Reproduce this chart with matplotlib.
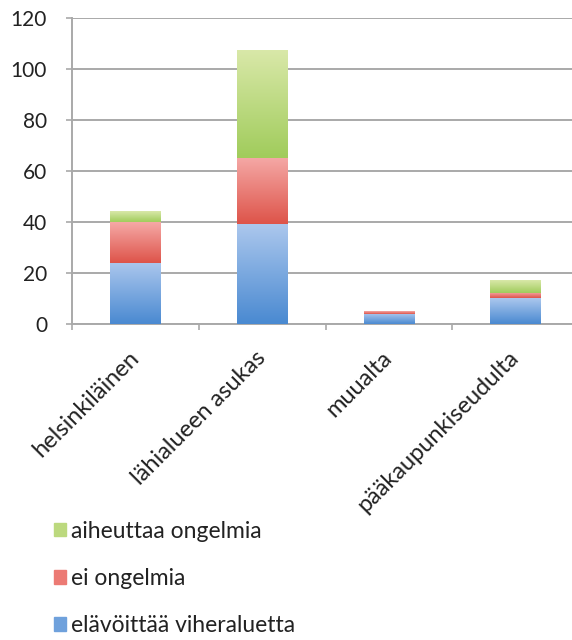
import numpy as np
import matplotlib.pyplot as plt
from matplotlib.patches import Patch

plt.rcParams['font.family'] = ['Lato', 'DejaVu Sans']

# Data
categories = ['helsinkiläinen', 'lähialueen asukas', 'muualta', 'pääkaupunkiseudulta']
elavoittaa = [24, 39, 4, 10]   # elävöittää viheraluetta (blue, bottom)
ei_ongelmia = [16, 26, 1, 2]   # ei ongelmia (red, middle)
aiheuttaa = [4, 42, 0, 5]      # aiheuttaa ongelmia (green, top)
series_labels = ['elävöittää viheraluetta', 'ei ongelmia', 'aiheuttaa ongelmia']
yticks = [0, 20, 40, 60, 80, 100, 120]

# (top colour, bottom colour) of each gradient fill
grads = [
    ((0.67, 0.78, 0.93), (0.29, 0.54, 0.82)),
    ((0.96, 0.66, 0.65), (0.87, 0.33, 0.29)),
    ((0.85, 0.91, 0.66), (0.63, 0.80, 0.36)),
]
mid_cols = ['#6fa1dc', '#ec7a74', '#bcd97e']

fig = plt.figure(figsize=(5.72, 6.4), dpi=100)
ax = fig.add_axes([72 / 572, 1 - 324 / 640, 507 / 572, 306.5 / 640])

x = np.arange(len(categories))
width = 0.4
bottom = np.zeros(len(categories))
containers = []
for vals, col, lab in zip([elavoittaa, ei_ongelmia, aiheuttaa], mid_cols, series_labels):
    c = ax.bar(x, vals, width, bottom=bottom, color=col, label=lab, zorder=2, linewidth=0)
    containers.append(c)
    bottom += np.array(vals)

# gradient overlay on every segment, light at top, darker at bottom
t = np.linspace(0, 1, 64)[:, None]
for cont, (ctop, cbot) in zip(containers, grads):
    img = (1 - t)[..., None] * np.array(cbot) + t[..., None] * np.array(ctop)
    for p in cont.patches:
        h = p.get_height()
        if h <= 0:
            continue
        x0, y0, w = p.get_x(), p.get_y(), p.get_width()
        ax.imshow(img, extent=[x0, x0 + w, y0, y0 + h], aspect='auto',
                  origin='lower', zorder=3, interpolation='bilinear')

ax.set_xlim(-0.5, len(categories) - 0.5)
ax.set_ylim(0, 120)
ax.set_yticks(yticks)
ax.yaxis.grid(True, color='#a9a9a9', linewidth=1.4)
ax.set_axisbelow(True)

for s in ['top', 'right']:
    ax.spines[s].set_visible(False)
for s in ['left', 'bottom']:
    ax.spines[s].set_color('#a9a9a9')
    ax.spines[s].set_linewidth(1.4)

ax.tick_params(axis='y', length=4, color='#a9a9a9', width=1.2, pad=14,
               labelsize=15, labelcolor='#222222')
ax.set_xticks(x)
ax.set_xticklabels(categories, rotation=45, ha='right', va='center',
                   rotation_mode='anchor', fontsize=17, color='#222222')
ax.tick_params(axis='x', which='major', length=0, pad=22)
ax.set_xticks(np.arange(len(categories) + 1) - 0.5, minor=True)
ax.tick_params(axis='x', which='minor', length=4, color='#a9a9a9', width=1.2)

handles = [Patch(color=mid_cols[i], label=series_labels[i]) for i in [2, 1, 0]]
fig.legend(handles=handles, loc='upper left', bbox_to_anchor=(33 / 572, 1 - 500 / 640),
           frameon=False, fontsize=16.5, handlelength=0.55, handleheight=0.55,
           handletextpad=0.2, labelspacing=1.15, labelcolor='#222222')

fig.savefig('out.png', dpi=100)
